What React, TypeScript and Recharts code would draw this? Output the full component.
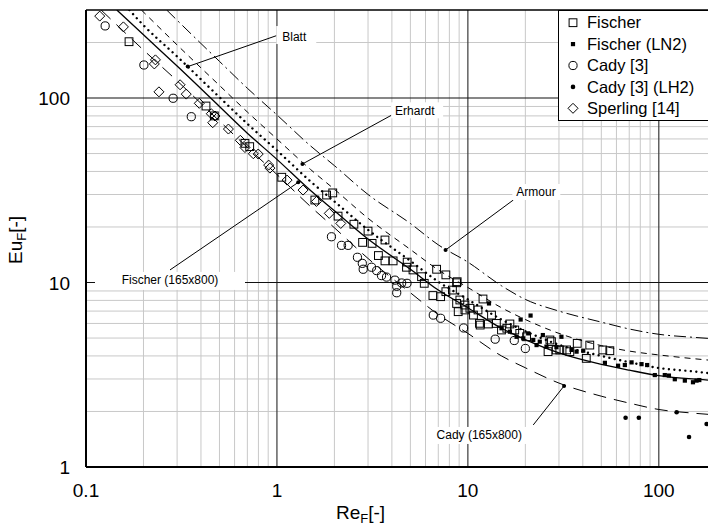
import React from 'react';
import { ComposedChart, Line, Scatter, XAxis, YAxis, ReferenceLine, ReferenceDot } from 'recharts';

// ---------- axis ticks / grid ----------
const xTicks = [0.1, 1, 10, 100];
const yTicks = [1, 10, 100];
const xMinorGrid = [0.2, 0.3, 0.4, 0.5, 0.6, 0.7, 0.8, 0.9, 2, 3, 4, 5, 6, 7, 8, 9, 20, 30, 40, 50, 60, 70, 80, 90];
const xMajorGrid = [1, 10, 100];
const yMinorGrid = [2, 3, 4, 5, 6, 7, 8, 9, 20, 30, 40, 50, 60, 70, 80, 90, 200];
const yMajorGrid = [10, 100];

// ---------- measured points ----------
const fischer = [
  { re: 0.168, eu: 202 }, { re: 0.425, eu: 90.5 }, { re: 0.47, eu: 80 }, { re: 0.68, eu: 56.8 },
  { re: 0.72, eu: 54.5 }, { re: 1.06, eu: 37.2 }, { re: 1.58, eu: 28 }, { re: 1.82, eu: 29.8 },
  { re: 1.96, eu: 30.6 }, { re: 2.09, eu: 22.9 }, { re: 2.53, eu: 20.7 }, { re: 3.0, eu: 19.0 },
  { re: 2.81, eu: 16.5 }, { re: 3.15, eu: 16.3 }, { re: 3.68, eu: 17.0 }, { re: 3.4, eu: 14.0 },
  { re: 3.68, eu: 13.1 }, { re: 4.06, eu: 13.1 }, { re: 4.81, eu: 12.9 }, { re: 4.77, eu: 12.1 },
  { re: 5.16, eu: 11.7 }, { re: 5.72, eu: 10.75 }, { re: 6.86, eu: 11.8 }, { re: 7.67, eu: 11.0 },
  { re: 8.79, eu: 10.1 }, { re: 5.91, eu: 9.9 }, { re: 6.56, eu: 8.5 }, { re: 7.2, eu: 8.38 },
  { re: 7.67, eu: 8.92 }, { re: 8.3, eu: 9.1 }, { re: 8.73, eu: 7.7 }, { re: 9.08, eu: 8.04 },
  { re: 8.9, eu: 6.95 }, { re: 9.65, eu: 7.1 }, { re: 10.25, eu: 7.25 }, { re: 12.0, eu: 8.14 },
  { re: 11.3, eu: 7.1 }, { re: 10.7, eu: 6.66 }, { re: 11.6, eu: 5.88 }, { re: 12.8, eu: 5.96 },
  { re: 13.3, eu: 6.66 }, { re: 14.1, eu: 6.0 }, { re: 16.0, eu: 5.65 }, { re: 16.6, eu: 5.96 },
  { re: 20.3, eu: 5.08 }, { re: 26.9, eu: 4.88 }, { re: 26.3, eu: 4.22 }, { re: 30.3, eu: 4.31 },
  { re: 34.2, eu: 4.22 }, { re: 37.4, eu: 4.68 }, { re: 43.5, eu: 4.58 }, { re: 41.7, eu: 3.88 },
  { re: 50.9, eu: 4.31 }, { re: 55.4, eu: 4.27 }, { re: 8.73, eu: 9.97 }, { re: 9.65, eu: 7.55 },
  { re: 11.5, eu: 6.01 }, { re: 15.0, eu: 5.53 }, { re: 17.6, eu: 5.53 }, { re: 18.7, eu: 5.3 },
  { re: 27.4, eu: 4.78 }, { re: 29.0, eu: 4.31 }, { re: 32.9, eu: 4.31 },
];

const fischerLN2 = [
  { re: 12.9, eu: 7.7 }, { re: 18.9, eu: 6.3 }, { re: 21.3, eu: 6.62 }, { re: 24.7, eu: 5.19 },
  { re: 30.9, eu: 5.08 }, { re: 15.0, eu: 5.65 }, { re: 16.6, eu: 5.41 }, { re: 18.0, eu: 5.08 },
  { re: 19.5, eu: 4.98 }, { re: 20.7, eu: 5.3 }, { re: 22.0, eu: 4.88 }, { re: 23.8, eu: 4.78 },
  { re: 25.8, eu: 4.49 }, { re: 29.1, eu: 4.46 }, { re: 22.9, eu: 4.58 }, { re: 34.9, eu: 4.31 },
  { re: 37.1, eu: 4.22 }, { re: 40.2, eu: 4.27 }, { re: 52.2, eu: 3.67 }, { re: 61.2, eu: 3.54 },
  { re: 66.4, eu: 3.57 }, { re: 72.0, eu: 3.69 }, { re: 81.2, eu: 3.61 }, { re: 86.9, eu: 3.57 },
  { re: 95.3, eu: 3.15 }, { re: 107.5, eu: 3.15 }, { re: 113, eu: 3.13 }, { re: 121.3, eu: 2.99 },
  { re: 136.9, eu: 2.94 }, { re: 151, eu: 2.88 }, { re: 157.6, eu: 2.94 }, { re: 163, eu: 2.96 },
];

const cady = [
  { re: 0.126, eu: 246 }, { re: 0.201, eu: 151 }, { re: 0.286, eu: 99.7 }, { re: 0.356, eu: 79.2 },
  { re: 1.93, eu: 17.7 }, { re: 2.18, eu: 15.9 }, { re: 2.36, eu: 15.9 }, { re: 2.64, eu: 13.7 },
  { re: 2.8, eu: 12.7 }, { re: 2.83, eu: 11.8 }, { re: 3.13, eu: 12.1 }, { re: 3.33, eu: 11.6 },
  { re: 3.53, eu: 10.9 }, { re: 3.75, eu: 10.7 }, { re: 4.15, eu: 10.3 }, { re: 4.5, eu: 9.94 },
  { re: 4.8, eu: 9.9 }, { re: 4.24, eu: 9.54 }, { re: 4.24, eu: 8.8 }, { re: 6.59, eu: 6.66 },
  { re: 7.2, eu: 6.4 }, { re: 9.5, eu: 5.67 }, { re: 13.9, eu: 4.93 }, { re: 17.5, eu: 4.85 },
  { re: 20.0, eu: 4.39 },
];

const cadyLH2 = [
  { re: 67, eu: 1.85 }, { re: 78.6, eu: 1.85 }, { re: 124, eu: 1.98 }, { re: 144, eu: 1.455 }, { re: 178, eu: 1.71 },
];

const sperling = [
  { re: 0.118, eu: 278 }, { re: 0.157, eu: 243 }, { re: 0.231, eu: 161 }, { re: 0.228, eu: 153 },
  { re: 0.241, eu: 108 }, { re: 0.311, eu: 118 }, { re: 0.335, eu: 105 }, { re: 0.392, eu: 93.6 },
  { re: 0.453, eu: 82.2 }, { re: 0.474, eu: 79.9 }, { re: 0.461, eu: 73.5 }, { re: 0.557, eu: 67.9 },
  { re: 0.643, eu: 59 }, { re: 0.68, eu: 53.9 }, { re: 0.752, eu: 49.9 }, { re: 0.798, eu: 49.7 },
  { re: 0.905, eu: 43.3 }, { re: 0.919, eu: 41.7 }, { re: 1.13, eu: 35.9 }, { re: 1.37, eu: 31.7 },
  { re: 1.61, eu: 27.5 }, { re: 1.88, eu: 23.7 }, { re: 2.16, eu: 20.9 },
];

// ---------- model curves ----------
const fischerCurve = [
  { re: 0.145, eu: 300 }, { re: 0.2, eu: 220 }, { re: 0.3, eu: 149 }, { re: 0.5, eu: 90 },
  { re: 0.7, eu: 64.5 }, { re: 1, eu: 46.5 }, { re: 1.5, eu: 31.5 }, { re: 2, eu: 24.5 },
  { re: 3, eu: 17.2 }, { re: 5, eu: 11.8 }, { re: 7, eu: 9.1 }, { re: 10, eu: 7.3 },
  { re: 15, eu: 5.65 }, { re: 20, eu: 4.9 }, { re: 30, eu: 4.15 }, { re: 50, eu: 3.6 },
  { re: 70, eu: 3.35 }, { re: 100, eu: 3.13 }, { re: 150, eu: 3.0 }, { re: 181, eu: 2.96 },
];
const blattCurve = [
  { re: 0.1686, eu: 300 }, { re: 0.2, eu: 248 }, { re: 0.3, eu: 168 }, { re: 0.5, eu: 101 },
  { re: 0.7, eu: 72.5 }, { re: 1, eu: 52 }, { re: 1.5, eu: 35.3 }, { re: 2, eu: 27.5 },
  { re: 3, eu: 19.3 }, { re: 5, eu: 13.1 }, { re: 7, eu: 10.1 }, { re: 10, eu: 8.1 },
  { re: 15, eu: 6.3 }, { re: 20, eu: 5.45 }, { re: 30, eu: 4.6 }, { re: 50, eu: 4.0 },
  { re: 70, eu: 3.7 }, { re: 100, eu: 3.44 }, { re: 150, eu: 3.3 }, { re: 181, eu: 3.23 },
];
const erhardtCurve = [
  { re: 0.195, eu: 300 }, { re: 0.3, eu: 194 }, { re: 0.5, eu: 117 }, { re: 0.7, eu: 84 },
  { re: 1, eu: 60 }, { re: 1.5, eu: 41 }, { re: 2, eu: 32 }, { re: 3, eu: 22.3 },
  { re: 5, eu: 15.1 }, { re: 7, eu: 11.7 }, { re: 10, eu: 9.4 }, { re: 15, eu: 7.3 },
  { re: 20, eu: 6.3 }, { re: 30, eu: 5.3 }, { re: 50, eu: 4.55 }, { re: 70, eu: 4.25 },
  { re: 100, eu: 4.05 }, { re: 150, eu: 3.87 }, { re: 181, eu: 3.8 },
];
const armourCurve = [
  { re: 0.2646, eu: 300 }, { re: 0.3, eu: 264 }, { re: 0.5, eu: 158 }, { re: 0.7, eu: 113 },
  { re: 1, eu: 81 }, { re: 1.5, eu: 55 }, { re: 2, eu: 43 }, { re: 3, eu: 30 },
  { re: 5, eu: 20.9 }, { re: 7, eu: 16.0 }, { re: 10, eu: 12.9 }, { re: 15, eu: 9.6 },
  { re: 20, eu: 8.1 }, { re: 30, eu: 7.0 }, { re: 50, eu: 6.1 }, { re: 70, eu: 5.6 },
  { re: 100, eu: 5.24 }, { re: 150, eu: 5.05 }, { re: 181, eu: 4.98 },
];
const cadyCurve = [
  { re: 0.12, eu: 300 }, { re: 0.2, eu: 182 }, { re: 0.3, eu: 124 }, { re: 0.5, eu: 75 },
  { re: 0.7, eu: 54 }, { re: 1, eu: 38.5 }, { re: 1.5, eu: 25.8 }, { re: 2, eu: 19.8 },
  { re: 3, eu: 13.5 }, { re: 5, eu: 8.8 }, { re: 7, eu: 6.7 }, { re: 10, eu: 5.3 },
  { re: 15, eu: 4.0 }, { re: 20, eu: 3.45 }, { re: 30, eu: 2.85 }, { re: 50, eu: 2.42 },
  { re: 70, eu: 2.22 }, { re: 100, eu: 2.05 }, { re: 150, eu: 1.96 }, { re: 181, eu: 1.93 },
];

// ---------- annotations (curve point -> label anchor) ----------
const annotations = [
  { text: 'Blatt', from: { re: 0.341, eu: 148 }, to: { re: 1.016, eu: 219.5 }, dx: 4, dy: 2, anchor: 'start', box: [-2, -9, 40, 18] },
  { text: 'Erhardt', from: { re: 1.36, eu: 43.9 }, to: { re: 4.06, eu: 81.6 }, dx: 2, dy: -4, anchor: 'start', box: [-2, -12, 52, 16] },
  { text: 'Fischer (165x800)', from: { re: 1.293, eu: 34.9 }, to: { re: 0.2754, eu: 11.7 }, dx: 0, dy: 10, anchor: 'middle', box: [-75, 2, 150, 18] },
  { text: 'Armour', from: { re: 7.64, eu: 15.0 }, to: { re: 17.3, eu: 28.0 }, dx: 3, dy: -8, anchor: 'start', box: [-1, -16, 48, 16] },
  { text: 'Cady (165x800)', from: { re: 31.9, eu: 2.75 }, to: { re: 22.0, eu: 1.69 }, dx: -54, dy: 10, anchor: 'middle', box: [-102, 2, 96, 17] },
];

const FONT = "'Liberation Sans', Arial, Helvetica, sans-serif";

// ---------- marker shapes ----------
const OpenSquare = (p: any) => <rect x={p.cx - 3.9} y={p.cy - 3.9} width={7.8} height={7.8} fill="none" stroke="#000" strokeWidth={1} />;
const FilledSquare = (p: any) => <rect x={p.cx - 2.1} y={p.cy - 2.1} width={4.2} height={4.2} fill="#000" />;
const OpenCircle = (p: any) => <circle cx={p.cx} cy={p.cy} r={4.1} fill="none" stroke="#000" strokeWidth={1} />;
const FilledDot = (p: any) => <circle cx={p.cx} cy={p.cy} r={2.3} fill="#000" />;
const OpenDiamond = (p: any) => (
  <polygon points={`${p.cx},${p.cy - 5} ${p.cx + 5},${p.cy} ${p.cx},${p.cy + 5} ${p.cx - 5},${p.cy}`} fill="none" stroke="#000" strokeWidth={1} />
);

const fmt = (v: number) => String(v);

const XTick = (props: any) => {
  const { x, y, payload } = props;
  return (
    <text x={x} y={y + 30} textAnchor="middle" fontSize={19} fontFamily={FONT} fill="#000">{fmt(payload.value)}</text>
  );
};
const YTick = (props: any) => {
  const { x, y, payload } = props;
  return (
    <text x={x} y={y + 7} textAnchor="end" fontSize={19} fontFamily={FONT} fill="#000">{fmt(payload.value)}</text>
  );
};

const XTitle = () => (
  <text x={336} y={519} fontSize={19} fontFamily={FONT} fill="#000">
    Re<tspan fontSize={13} dy={4}>F</tspan><tspan dy={-4}>[-]</tspan>
  </text>
);
const YTitle = () => (
  <text x={0} y={0} transform="translate(22,240) rotate(-90)" textAnchor="middle" fontSize={19} fontFamily={FONT} fill="#000">
    Eu<tspan fontSize={13} dy={4}>F</tspan><tspan dy={-4}>[-]</tspan>
  </text>
);

const legendItems = [
  { name: 'Fischer', Shape: OpenSquare },
  { name: 'Fischer (LN2)', Shape: FilledSquare },
  { name: 'Cady [3]', Shape: OpenCircle },
  { name: 'Cady [3] (LH2)', Shape: FilledDot },
  { name: 'Sperling [14]', Shape: OpenDiamond },
];

export default function App() {
  return (
    <div style={{ position: 'absolute', left: 0, top: 0, width: 708, height: 527, overflow: 'hidden', background: '#fff' }}>
      <ComposedChart width={708} height={527} margin={{ top: 10, right: 0, bottom: 0, left: 0 }}>
        <XAxis
          type="number" dataKey="re" scale="log" domain={[0.1, 181]} allowDataOverflow
          ticks={xTicks} tick={<XTick />} tickLine={false} tickSize={0} tickMargin={0} height={60}
          axisLine={{ stroke: '#000', strokeWidth: 2 }} label={<XTitle />}
        />
        <YAxis
          type="number" dataKey="eu" scale="log" domain={[1, 300]} allowDataOverflow
          ticks={yTicks} tick={<YTick />} tickLine={false} tickSize={0} tickMargin={16} width={86}
          axisLine={{ stroke: '#000', strokeWidth: 2 }} label={<YTitle />}
        />
        {xMinorGrid.map((v) => <ReferenceLine key={'xm' + v} x={v} stroke="#c8c8c8" strokeWidth={1} />)}
        {yMinorGrid.map((v) => <ReferenceLine key={'ym' + v} y={v} stroke="#c8c8c8" strokeWidth={1} />)}
        {xMajorGrid.map((v) => <ReferenceLine key={'xM' + v} x={v} stroke="#3a3a3a" strokeWidth={1.2} />)}
        {yMajorGrid.map((v) => <ReferenceLine key={'yM' + v} y={v} stroke="#111" strokeWidth={1.2} />)}
        <ReferenceLine y={300} stroke="#000" strokeWidth={1.5} />

        <Line data={armourCurve} dataKey="eu" type="monotone" stroke="#000" strokeWidth={1} strokeDasharray="12 4 2 4" dot={false} isAnimationActive={false} />
        <Line data={erhardtCurve} dataKey="eu" type="monotone" stroke="#000" strokeWidth={1} strokeDasharray="6 5" dot={false} isAnimationActive={false} />
        <Line data={blattCurve} dataKey="eu" type="monotone" stroke="#000" strokeWidth={2.4} strokeDasharray="0.01 5.5" strokeLinecap="round" dot={false} isAnimationActive={false} />
        <Line data={fischerCurve} dataKey="eu" type="monotone" stroke="#000" strokeWidth={1.3} dot={false} isAnimationActive={false} />
        <Line data={cadyCurve} dataKey="eu" type="monotone" stroke="#000" strokeWidth={1} strokeDasharray="13 8" dot={false} isAnimationActive={false} />

        <Scatter name="Fischer" data={fischer} dataKey="eu" shape={OpenSquare} isAnimationActive={false} />
        <Scatter name="Fischer (LN2)" data={fischerLN2} dataKey="eu" shape={FilledSquare} isAnimationActive={false} />
        <Scatter name="Cady [3]" data={cady} dataKey="eu" shape={OpenCircle} isAnimationActive={false} />
        <Scatter name="Cady [3] (LH2)" data={cadyLH2} dataKey="eu" shape={FilledDot} isAnimationActive={false} />
        <Scatter name="Sperling [14]" data={sperling} dataKey="eu" shape={OpenDiamond} isAnimationActive={false} />

        {annotations.map((a) => (
          <ReferenceDot key={'box' + a.text} x={a.to.re} y={a.to.eu} r={0}
            shape={(p: any) => <rect x={p.cx + a.box[0]} y={p.cy + a.box[1]} width={a.box[2]} height={a.box[3]} fill="#fff" />} />
        ))}
        {annotations.map((a) => (
          <ReferenceLine key={'ln' + a.text} segment={[{ x: a.from.re, y: a.from.eu }, { x: a.to.re, y: a.to.eu }]} stroke="#000" strokeWidth={1} />
        ))}
        {annotations.map((a) => (
          <ReferenceDot key={'dot' + a.text} x={a.from.re} y={a.from.eu} r={2} fill="#000" stroke="none" />
        ))}
        {annotations.map((a) => (
          <ReferenceDot key={'txt' + a.text} x={a.to.re} y={a.to.eu} r={0}
            shape={(p: any) => (
              <text x={p.cx + a.dx} y={p.cy + a.dy} dy="0.35em" textAnchor={a.anchor as any} fontSize={12} fontFamily={FONT} fill="#000">{a.text}</text>
            )} />
        ))}
      </ComposedChart>
      <div style={{ position: 'absolute', left: 558, top: 10, width: 160, height: 111, border: '1px solid #000', background: '#fff', boxSizing: 'border-box' }}>
        <svg width={160} height={111} style={{ display: 'block', position: 'absolute', left: -1, top: -1 }}>
          {legendItems.map((it, i) => {
            const cy = 12.7 + i * 21.4;
            const S = it.Shape;
            return (
              <g key={it.name}>
                <S cx={15} cy={cy} />
                <text x={29} y={cy} dy="0.35em" fontSize={16.5} fontFamily={FONT} fill="#000">{it.name}</text>
              </g>
            );
          })}
        </svg>
      </div>
    </div>
  );
}
